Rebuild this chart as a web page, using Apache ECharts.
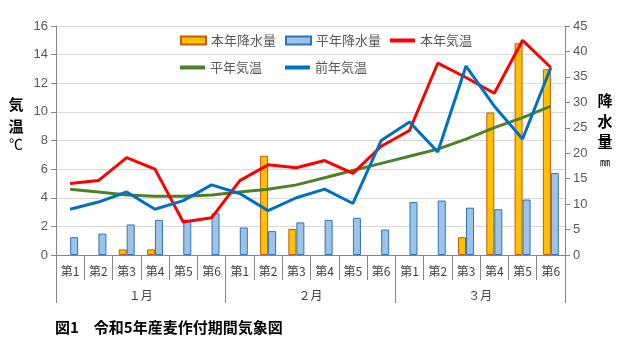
<!DOCTYPE html>
<html><head><meta charset="utf-8">
<script src="https://cdn.jsdelivr.net/npm/echarts@6/dist/echarts.min.js"></script>
<style>html,body{margin:0;padding:0;background:#fff}#c{width:622px;height:359px}</style>
</head><body><div id="c"></div>
<script>
var categories = ['第1','第2','第3','第4','第5','第6','第1','第2','第3','第4','第5','第6','第1','第2','第3','第4','第5','第6'];
var months = ['１月','２月','３月'];
var rainThisYear = [null,null,1.1,1.1,null,null, null,19.5,5.1,null,null,null, null,null,3.5,28.0,41.6,36.5];
var rainNormal = [3.5,4.2,6.0,6.9,6.9,8.2, 5.4,4.7,6.4,6.9,7.3,5.0, 10.4,10.7,9.3,9.0,10.9,16.1];
var tempThisYear = [5.0,5.2,6.8,6.0,2.3,2.6, 5.2,6.3,6.1,6.6,5.7,7.6, 8.7,13.4,12.4,11.3,15.0,13.1];
var tempNormal = [4.6,4.4,4.2,4.1,4.1,4.2, 4.4,4.6,4.9,5.4,5.9,6.4, 6.9,7.4,8.1,8.9,9.6,10.4];
var tempLastYear = [3.2,3.7,4.4,3.2,3.8,4.9, 4.3,3.1,4.0,4.6,3.6,8.0, 9.3,7.2,13.2,10.4,8.1,13.1];
var leftTicks = [0,16,2];
var rightTicks = [0,45,5];

var FONT = '"Noto Sans CJK JP", sans-serif';
var chart = echarts.init(document.getElementById('c'), null, {renderer:'canvas'});
function lg(name, left, top, isLine){
  return {data:[{name:name, icon:'rect'}], left:left, top:top, padding:0,
    itemWidth:25, itemHeight:isLine ? 4 : 8, itemGap:0,
    textStyle:{color:'#595959', fontSize:13, fontFamily:FONT}};
}
chart.setOption({
  animation:false,
  textStyle:{fontFamily:FONT},
  grid:{left:56, right:57, top:26, bottom:104, containLabel:false},
  legend:[lg('本年降水量',180,34,false), lg('平年降水量',285,34,false), lg('本年気温',390,34,true), lg('平年気温',180,61,true), lg('前年気温',285,61,true)],
  xAxis:[
    {type:'category', data:categories, position:'bottom',
     axisLine:{show:true, lineStyle:{color:'#868686'}},
     axisTick:{show:true, interval:0, length:25, alignWithLabel:false, lineStyle:{color:'#868686'}},
     axisLabel:{interval:0, margin:10, color:'#404040', fontSize:12, fontFamily:FONT}},
    {type:'category', data:months, position:'bottom',
     axisLine:{show:false},
     axisTick:{show:true, interval:0, length:48, lineStyle:{color:'#868686'}},
     axisLabel:{interval:0, margin:34, color:'#404040', fontSize:12, fontFamily:FONT}}
  ],
  yAxis:[
    {type:'value', min:leftTicks[0], max:leftTicks[1], interval:leftTicks[2],
     axisLine:{show:true, lineStyle:{color:'#868686'}},
     axisTick:{show:true, length:5, lineStyle:{color:'#868686'}},
     axisLabel:{color:'#595959', fontSize:13, margin:8, fontFamily:'"Liberation Sans", sans-serif'},
     splitLine:{show:true, lineStyle:{color:'#D9D9D9', width:1}}},
    {type:'value', min:rightTicks[0], max:rightTicks[1], interval:rightTicks[2], position:'right',
     axisLine:{show:true, lineStyle:{color:'#868686'}},
     axisTick:{show:true, length:5, lineStyle:{color:'#868686'}},
     axisLabel:{color:'#595959', fontSize:13, margin:8, fontFamily:'"Liberation Sans", sans-serif'},
     splitLine:{show:false}}
  ],
  series:[
    {name:'本年降水量', type:'bar', xAxisIndex:0, yAxisIndex:1, data:rainThisYear, barWidth:8, barGap:'0%',
     itemStyle:{color:'#FFC000', borderColor:'#C55A11', borderWidth:1}},
    {name:'平年降水量', type:'bar', xAxisIndex:0, yAxisIndex:1, data:rainNormal, barWidth:8, barGap:'0%',
     itemStyle:{color:'#9DC3E6', borderColor:'#2E75B6', borderWidth:1}},
    {name:'本年気温', type:'line', xAxisIndex:0, yAxisIndex:0, data:tempThisYear, symbol:'none',
     lineStyle:{color:'#FF0000', width:3}, itemStyle:{color:'#FF0000', borderWidth:0}, z:5},
    {name:'平年気温', type:'line', xAxisIndex:0, yAxisIndex:0, data:tempNormal, symbol:'none',
     lineStyle:{color:'#4E8127', width:3}, itemStyle:{color:'#4E8127', borderWidth:0}, z:4},
    {name:'前年気温', type:'line', xAxisIndex:0, yAxisIndex:0, data:tempLastYear, symbol:'none',
     lineStyle:{color:'#0070C0', width:3}, itemStyle:{color:'#0070C0', borderWidth:0}, z:6}
  ],
  graphic:[
    {type:'text', x:16, y:104, style:{text:'気', font:'bold 15px '+FONT, fill:'#000', align:'center', verticalAlign:'middle'}},
    {type:'text', x:16, y:126, style:{text:'温', font:'bold 15px '+FONT, fill:'#000', align:'center', verticalAlign:'middle'}},
    {type:'text', x:16, y:144, style:{text:'℃', font:'14px '+FONT, fill:'#000', align:'center', verticalAlign:'middle'}},
    {type:'text', x:605, y:100, style:{text:'降', font:'bold 15px '+FONT, fill:'#000', align:'center', verticalAlign:'middle'}},
    {type:'text', x:605, y:121, style:{text:'水', font:'bold 15px '+FONT, fill:'#000', align:'center', verticalAlign:'middle'}},
    {type:'text', x:605, y:141, style:{text:'量', font:'bold 15px '+FONT, fill:'#000', align:'center', verticalAlign:'middle'}},
    {type:'text', x:605, y:162, style:{text:'㎜', font:'10px '+FONT, fill:'#000', align:'center', verticalAlign:'middle'}},
    {type:'text', x:55, y:327, style:{text:'図1　令和5年産麦作付期間気象図', font:'bold 15px '+FONT, fill:'#000', align:'left', verticalAlign:'middle'}}
  ]
});
</script></body></html>
